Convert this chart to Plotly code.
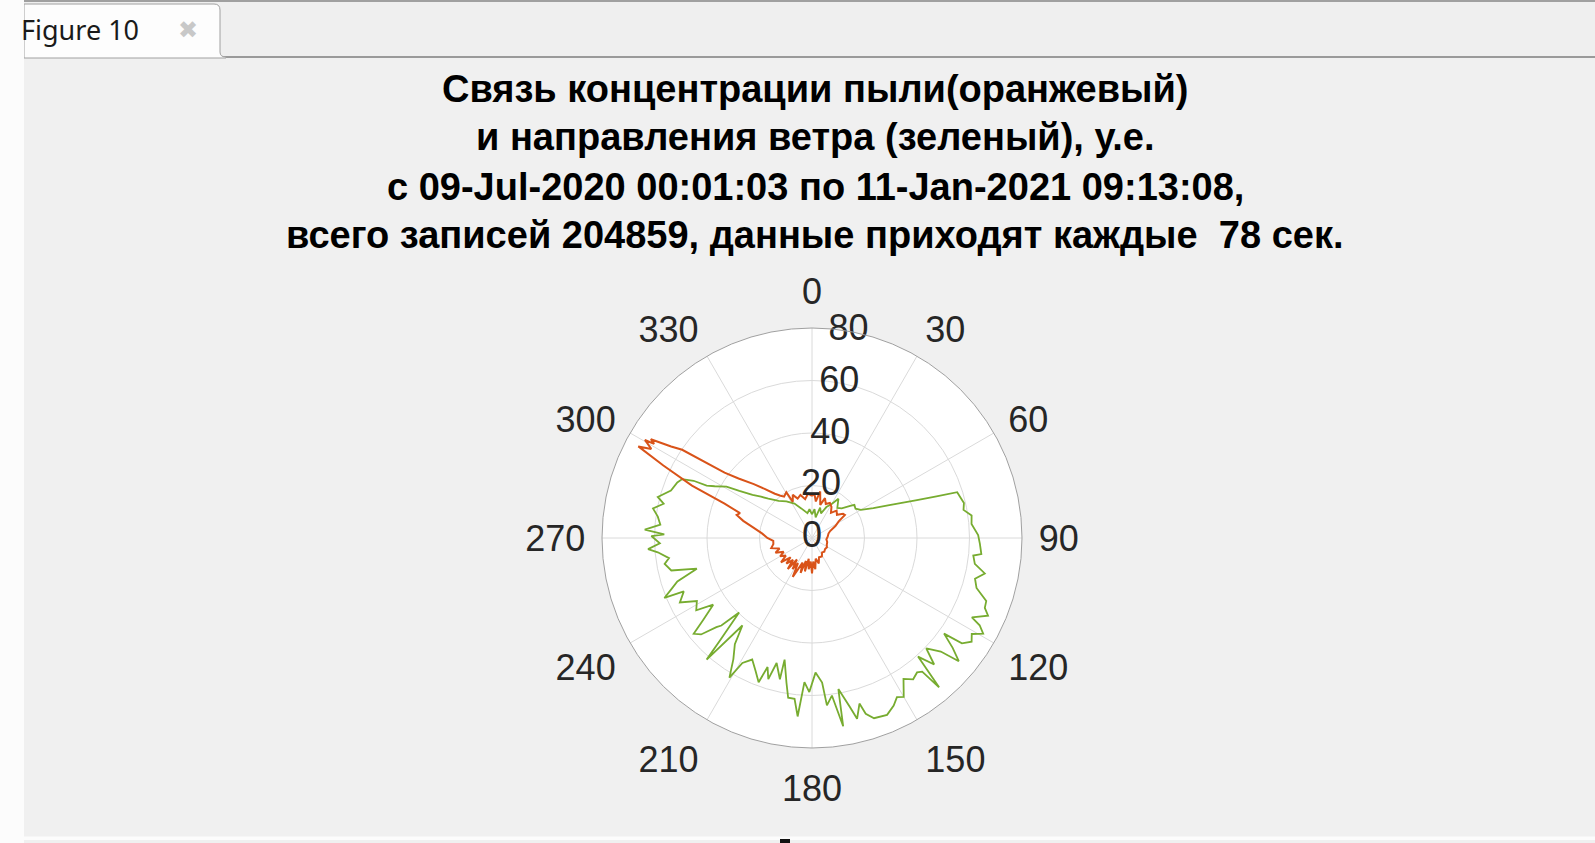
import plotly.graph_objects as go

W, H = 1595, 843

# ---- data ----
green_theta = [0, 5, 10, 15, 20, 25, 30, 34, 40, 45, 50, 52, 56, 60, 64, 67, 70, 71.5, 72.5, 74.6,
               77, 79.5, 82, 85, 89, 92, 95.4, 96.2, 99, 101.6, 104, 106.9, 109.9, 112, 113.8, 116.4,
               117.5, 119.2, 121, 123, 125.1, 125.9, 128, 130, 131.4, 134, 136, 138.2, 139.6, 140.5,
               142, 144.4, 147, 150, 151.9, 154, 157, 161, 163, 164, 166, 167.4, 170.1, 170.6, 172.8,
               174.9, 176, 178.5, 181, 183, 184.6, 186.2, 188.5, 190, 192.7, 192.8, 195.8, 197.2, 199,
               200.3, 203, 206.2, 209.1, 210.6, 213, 216, 218.5, 220.9, 222, 224.4, 226, 227, 229, 231,
               233, 236, 238, 241.3, 244, 247.4, 247.9, 250, 252.1, 255.1, 257, 260, 262, 264.7, 266.1,
               268, 270.7, 271.4, 272.9, 275, 277.9, 280.5, 283, 284.9, 288.6, 292.4, 294.4, 295.8,
               296.4, 298, 301, 303, 306, 309, 312, 318, 325, 333, 340, 349.6, 355, 360]
green_r = [9, 11, 8, 12, 10, 13, 15, 18, 15, 16, 19, 20.5, 20, 21.5, 26, 32, 42, 50, 58, 58.6,
           59.4, 58.7, 61.4, 61, 63.3, 64, 64.8, 61.8, 62.8, 67.2, 64, 65.5, 70.6, 71, 73.3, 68,
           72, 74.7, 71, 72.5, 69.8, 62.1, 68, 73, 65.4, 60.5, 67, 60.6, 74.7, 66,
           65, 66.2, 64, 69.9, 68.7, 71, 73.2, 72.6, 70, 65.6, 71, 65.9, 58.4, 72.7, 60.5,
           64, 55.2, 51.3, 58.7, 55, 68.2, 61.6, 61.5, 56, 47.5, 55.2, 49.5, 56.3, 52,
           58.6, 55, 51.6, 54.5, 61.8, 55, 50, 42.6, 61.3, 52, 39.7, 48, 49.8, 56, 58,
           52, 45.4, 52, 50, 56, 52.9, 60.7, 57, 53.9, 45.4, 55, 57, 55, 59, 62.6,
           58, 61.2, 56.3, 63.8, 58, 59.3, 61.6, 58, 60.8, 56.7, 55.5, 54.3, 50.1,
           44.8, 42, 38, 33, 28, 25, 22.4, 19, 17, 14.7, 12, 9.6, 11, 9]

orange_theta = [0, 3, 6, 10, 14, 18, 22, 27, 32, 37, 42, 47, 52, 55, 58, 63, 69, 75, 85, 95, 105,
                115, 122, 130, 138, 145, 152, 160, 165, 170, 174, 177, 180, 183, 186, 189, 192, 195,
                198, 201, 204, 206.4, 209, 212, 215, 218, 221, 225, 228, 232, 236, 240, 244, 248,
                252, 256, 261, 265.7, 270, 275, 279.8, 284, 287, 289, 291.5, 293.6, 296, 297.8, 299,
                300.4, 300.8, 301.5, 303, 304.2, 306.8, 309, 312.8, 316, 320, 322.9, 326, 330.7, 332,
                336, 340, 345, 350, 355, 360]
orange_r = [16, 17, 14, 18, 13, 16, 14, 15, 14, 12, 14, 13, 15, 15.3, 12, 10, 7.4, 6.5, 6, 5.5, 6,
            6.2, 6.7, 6.5, 7, 6.7, 8, 7.8, 10, 8, 12, 9, 13.5, 9, 12, 8, 13, 9,
            14, 10, 13, 16.5, 11, 14, 10, 15, 11, 13.8, 11, 15, 12, 14, 12, 15,
            13, 16, 14.9, 14.8, 17, 19, 22.5, 27, 30, 29, 35.8, 49.9, 63, 74.8, 70,
            73.8, 70, 72, 64, 59.8, 41.6, 36, 30.2, 26, 22, 20.3, 19, 20, 15.6,
            18, 16, 17, 15, 17, 16]

angle_ticks = list(range(0, 360, 30))
angle_labels = [str(a) for a in angle_ticks]
radial_ticks = [0, 20, 40, 60, 80]
radial_labels = [str(v) for v in radial_ticks]
RADIAL_LABEL_THETA = 10  # MATLAB RAxisLocation (80 deg math) in compass degrees

title_lines = [
    "Связь концентрации пыли(оранжевый)",
    "и направления ветра (зеленый), у.е.",
    "с 09-Jul-2020 00:01:03 по 11-Jan-2021 09:13:08,",
    "всего записей 204859, данные приходят каждые  78 сек.",
]

ORANGE = "#D95319"
GREEN = "#77AC30"
TXT = "#262626"
FONT = "Liberation Sans, Arial"

fig = go.Figure()
fig.add_trace(go.Scatterpolar(theta=green_theta, r=green_r, mode="lines",
                              line=dict(color=GREEN, width=1.8), showlegend=False))
fig.add_trace(go.Scatterpolar(theta=orange_theta, r=orange_r, mode="lines",
                              line=dict(color=ORANGE, width=2), showlegend=False))
fig.add_trace(go.Scatterpolar(theta=[RADIAL_LABEL_THETA] * len(radial_ticks), r=radial_ticks,
                              mode="text", text=radial_labels, textposition="middle center",
                              textfont=dict(family=FONT, size=36, color=TXT),
                              cliponaxis=False, hoverinfo="skip", showlegend=False))

cx, cy, R = 812, 538, 210
fig.update_layout(
    width=W, height=H, margin=dict(l=0, r=0, t=0, b=0),
    paper_bgcolor="#f0f0f0",
    showlegend=False,
    polar=dict(
        domain=dict(x=[(cx - R) / W, (cx + R) / W], y=[1 - (cy + R) / H, 1 - (cy - R) / H]),
        bgcolor="white",
        angularaxis=dict(rotation=90, direction="clockwise", tickmode="array",
                         tickvals=angle_ticks, ticktext=angle_labels,
                         showline=True, linecolor="#a0a0a0", linewidth=1,
                         gridcolor="#dadada", gridwidth=1,
                         ticks="outside", ticklen=9, tickcolor="rgba(0,0,0,0)",
                         tickfont=dict(family=FONT, size=36, color=TXT)),
        radialaxis=dict(range=[0, 80], tickmode="array", tickvals=radial_ticks,
                        showticklabels=False, showline=False, ticks="",
                        gridcolor="#dadada", gridwidth=1),
    ),
)

shapes = [
    dict(type="rect", xref="paper", yref="paper", x0=0, x1=1, y0=1 - 57 / H, y1=1,
         fillcolor="#efefef", line_width=0, layer="below"),
    dict(type="line", xref="paper", yref="paper", x0=0, x1=1, y0=1 - 1 / H, y1=1 - 1 / H,
         line=dict(color="#a0a0a0", width=2)),
    dict(type="line", xref="paper", yref="paper", x0=0, x1=1, y0=1 - 57 / H, y1=1 - 57 / H,
         line=dict(color="#9a9a9a", width=2)),
    dict(type="path", xref="paper", yref="paper",
         path=f"M {24/W},{1-58/H} L {24/W},{1-4/H} L {214/W},{1-4/H} Q {220/W},{1-4/H} {220/W},{1-10/H} "
              f"L {220/W},{1-52/H} Q {220/W},{1-57/H} {226/W},{1-57/H} L {226/W},{1-58/H} Z",
         fillcolor="#fdfdfd", line=dict(color="#a0a0a0", width=1)),
    dict(type="rect", xref="paper", yref="paper", x0=0, x1=24 / W, y0=0, y1=1,
         fillcolor="#fcfcfc", line_width=0),
    dict(type="rect", xref="paper", yref="paper", x0=24 / W, x1=1, y0=1 - 840 / H, y1=1 - 836.5 / H,
         fillcolor="#fcfcfc", line_width=0),
    dict(type="rect", xref="paper", yref="paper", x0=780 / W, x1=790 / W, y0=0, y1=1 - 839 / H,
         fillcolor="#111111", line_width=0),
]
fig.update_layout(shapes=shapes)

ann = [
    dict(text="Figure 10", x=19 / W, y=1 - 30 / H, xref="paper", yref="paper", xanchor="left",
         yanchor="middle", showarrow=False, font=dict(family="Noto Sans", size=27, color="#1a1a1a")),
    dict(text="✖", x=188 / W, y=1 - 30 / H, xref="paper", yref="paper", xanchor="center",
         yanchor="middle", showarrow=False, font=dict(family="DejaVu Sans", size=24, color="#c8c8c8")),
]
title_y = [88.5, 137.5, 186.5, 235]
for line, ty in zip(title_lines, title_y):
    ann.append(dict(text=f"<b>{line}</b>", x=815 / W, y=1 - ty / H, xref="paper", yref="paper",
                    xanchor="center", yanchor="middle", showarrow=False,
                    font=dict(family=FONT, size=38, color="#000000")))
fig.update_layout(annotations=ann)

fig.write_html("out.html", config={"displayModeBar": False},
               post_script="document.body.style.margin='0';document.body.style.overflow='hidden';")
